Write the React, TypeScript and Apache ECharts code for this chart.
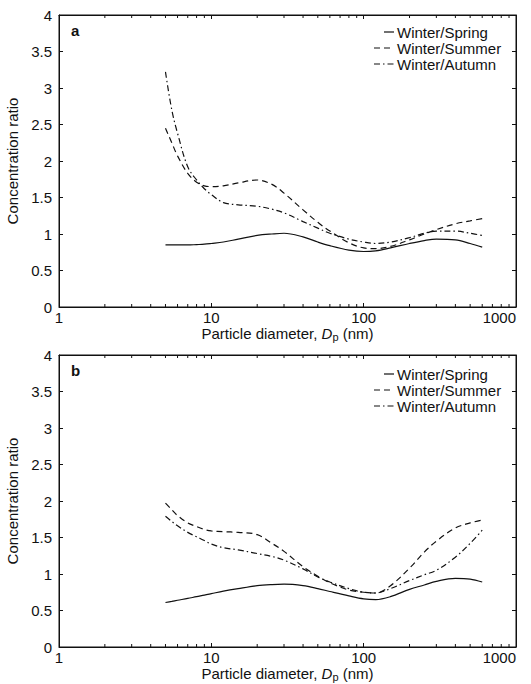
import React, { useEffect, useRef } from "react";
import * as echarts from "echarts";

const diameters = [5, 5.5, 6, 7, 8, 9, 10, 12, 15, 20, 25, 30, 40, 50, 60, 80, 100, 120, 150, 200, 250, 300, 400, 500, 600];

const aSpring = [0.85, 0.85, 0.85, 0.85, 0.855, 0.86, 0.87, 0.89, 0.93, 0.98, 1.0, 1.01, 0.96, 0.89, 0.84, 0.78, 0.76, 0.77, 0.81, 0.87, 0.91, 0.93, 0.92, 0.87, 0.82];
const aSummer = [2.45, 2.25, 2.07, 1.83, 1.71, 1.66, 1.65, 1.66, 1.7, 1.74, 1.68, 1.56, 1.33, 1.16, 1.04, 0.88, 0.81, 0.8, 0.83, 0.92, 1.0, 1.06, 1.14, 1.18, 1.21];
const aAutumn = [3.22, 2.7, 2.38, 1.92, 1.74, 1.62, 1.54, 1.43, 1.4, 1.38, 1.34, 1.29, 1.17, 1.08, 1.01, 0.93, 0.89, 0.87, 0.89, 0.95, 1.01, 1.04, 1.04, 1.01, 0.98];

const bSpring = [0.61, 0.625, 0.64, 0.665, 0.69, 0.71, 0.73, 0.765, 0.8, 0.84, 0.855, 0.86, 0.84, 0.8, 0.76, 0.7, 0.66, 0.65, 0.69, 0.79, 0.85, 0.9, 0.94, 0.93, 0.89];
const bSummer = [1.97, 1.88, 1.8, 1.7, 1.65, 1.61, 1.59, 1.58, 1.57, 1.54, 1.42, 1.31, 1.1, 0.97, 0.88, 0.78, 0.75, 0.74, 0.84, 1.08, 1.3, 1.45, 1.63, 1.7, 1.74];
const bAutumn = [1.79, 1.72, 1.66, 1.57, 1.51, 1.46, 1.41, 1.36, 1.33, 1.28, 1.24, 1.19, 1.07, 0.96, 0.89, 0.8, 0.75, 0.74, 0.8, 0.91, 0.99, 1.05, 1.23, 1.42, 1.6];

const seriesNames = ["Winter/Spring", "Winter/Summer", "Winter/Autumn"];
const panelLabels = ["a", "b"];
const minorXTicks = [2, 3, 4, 5, 6, 7, 8, 9, 20, 30, 40, 50, 60, 70, 80, 90, 200, 300, 400, 500, 600, 700, 800, 900];

const FONT = "Liberation Sans, Arial, sans-serif";
const INK = "#111";
const FS = 15;

export default function App() {
  const ref = useRef<HTMLDivElement>(null);
  useEffect(() => {
    if (!ref.current) return;
    const chart = echarts.init(ref.current, undefined, { renderer: "svg" });
    const grids = [
      { left: 59, top: 15, width: 457, height: 292, outerBoundsMode: "none", containLabel: false, show: true, borderColor: INK, borderWidth: 1 },
      { left: 59, top: 355, width: 457, height: 292, outerBoundsMode: "none", containLabel: false, show: true, borderColor: INK, borderWidth: 1 },
    ];
    const mkLine = () => ({ show: true, onZero: false, lineStyle: { color: INK, width: 1 } });
    const mkTick = () => ({ show: true, inside: true, length: 4, lineStyle: { color: INK, width: 1 } });
    const xAxes: any[] = [];
    const yAxes: any[] = [];
    grids.forEach((_, g) => {
      xAxes.push({
        type: "log",
        logBase: 10,
        min: 1,
        max: 1000,
        gridIndex: g,
        position: "bottom",
        axisLine: mkLine(),
        axisTick: mkTick(),
        axisLabel: {
          color: INK,
          fontSize: FS,
          fontFamily: FONT,
          margin: 3,
          alignMaxLabel: "right",
          formatter: (v: number) => String(Math.round(v)),
        },
        splitLine: { show: false },
        name: "Particle diameter, {i|D}{sub|p} (nm)",
        nameLocation: "middle",
        nameGap: 14,
        nameTextStyle: {
          color: INK,
          fontSize: FS,
          fontFamily: FONT,
          verticalAlign: "top",
          rich: {
            i: { fontStyle: "italic", fontSize: FS, fontFamily: FONT, color: INK },
            sub: { fontSize: 11, fontFamily: FONT, color: INK, padding: [8, 0, 0, 0] },
          },
        },
      });
    });
    grids.forEach((_, g) => {
      xAxes.push({
        type: "log",
        logBase: 10,
        min: 1,
        max: 1000,
        gridIndex: g,
        position: "top",
        axisLine: mkLine(),
        axisTick: mkTick(),
        axisLabel: { show: false },
        splitLine: { show: false },
      });
    });
    grids.forEach((_, g) => {
      yAxes.push({
        type: "value",
        min: 0,
        max: 4,
        interval: 0.5,
        gridIndex: g,
        position: "left",
        axisLine: mkLine(),
        axisTick: mkTick(),
        axisLabel: { color: INK, fontSize: FS, fontFamily: FONT, margin: 7 },
        splitLine: { show: false },
        name: "Concentration ratio",
        nameLocation: "middle",
        nameGap: 34,
        nameTextStyle: { color: INK, fontSize: FS, fontFamily: FONT },
      });
    });
    grids.forEach((_, g) => {
      yAxes.push({
        type: "value",
        min: 0,
        max: 4,
        interval: 0.5,
        gridIndex: g,
        position: "right",
        axisLine: mkLine(),
        axisTick: mkTick(),
        axisLabel: { show: false },
        splitLine: { show: false },
      });
    });

    const dashes: any[] = ["solid", [6, 4], [6, 3, 1.5, 3]];
    const panels = [
      [aSpring, aSummer, aAutumn],
      [bSpring, bSummer, bAutumn],
    ];
    const series: any[] = [];
    panels.forEach((vals, g) => {
      vals.forEach((v, k) => {
        series.push({
          type: "line",
          name: seriesNames[k],
          xAxisIndex: g,
          yAxisIndex: g,
          data: diameters.map((d, i) => [d, v[i]]),
          symbol: "none",
          smooth: 0.35,
          lineStyle: { color: INK, width: 1.2, type: dashes[k] },
          itemStyle: { color: INK },
        });
      });
      // minor log ticks on bottom and top edges
      series.push({
        type: "custom",
        xAxisIndex: g,
        yAxisIndex: g,
        silent: true,
        data: minorXTicks.map((t) => [t, 0]),
        encode: { x: 0, y: 1 },
        renderItem: (params: any, api: any) => {
          const x = api.value(0);
          const pb = api.coord([x, 0]);
          const pt = api.coord([x, 4]);
          return {
            type: "group",
            children: [
              { type: "line", shape: { x1: pb[0], y1: pb[1], x2: pb[0], y2: pb[1] - 3 }, style: { stroke: INK, lineWidth: 1 } },
              { type: "line", shape: { x1: pt[0], y1: pt[1], x2: pt[0], y2: pt[1] + 3 }, style: { stroke: INK, lineWidth: 1 } },
            ],
          };
        },
      });
    });

    // legend drawn as graphic (line sample + text) so that dash styles show
    const legendRowTops = [32, 374];
    const sampleStart = [384, 374, 374];
    const graphic: any[] = [];
    legendRowTops.forEach((y0) => {
      seriesNames.forEach((name, k) => {
        const y = y0 + k * 16;
        graphic.push({
          type: "line",
          silent: true,
          shape: { x1: sampleStart[k], y1: y, x2: 394, y2: y },
          style: {
            stroke: INK,
            lineWidth: 1.2,
            lineDash: k === 0 ? null : dashes[k],
          },
        });
        graphic.push({
          type: "text",
          silent: true,
          x: 397,
          y,
          style: {
            text: name,
            fill: INK,
            font: `${FS}px ${FONT}`,
            verticalAlign: "middle",
            align: "left",
          },
        });
      });
    });

    chart.setOption({
      animation: false,
      grid: grids,
      xAxis: xAxes,
      yAxis: yAxes,
      title: panelLabels.map((t, g) => ({
        text: t,
        left: 71,
        top: g === 0 ? 23 : 363,
        padding: 0,
        textStyle: { fontSize: FS, fontWeight: "bold", fontFamily: FONT, color: INK },
      })),
      graphic,
      series,
    });
    return () => chart.dispose();
  }, []);
  return (
    <div
      ref={ref}
      style={{ position: "absolute", left: 0, top: 0, width: 531, height: 684, background: "#fff" }}
    />
  );
}
